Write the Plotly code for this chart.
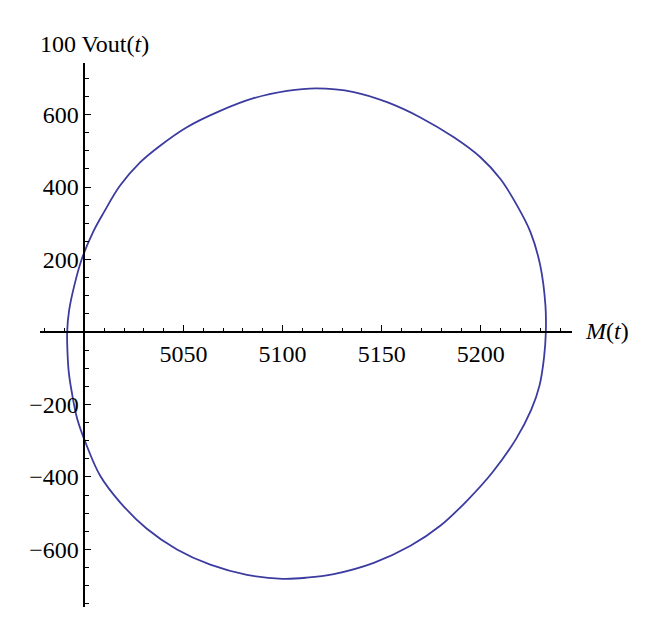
import plotly.graph_objects as go

# Parametric curve: M(t) vs 100 Vout(t)
m_values = [4991.5, 4991.3, 4992.3, 4994.9, 4998.6, 5004.3, 5009.8, 5018.0, 5028.1,
            5038.2, 5051.7, 5068.5, 5085.4, 5102.2, 5117.0, 5135.9, 5152.7, 5169.5,
            5186.4, 5199.8, 5209.9, 5218.4, 5225.1, 5230.0, 5232.6, 5232.8, 5231.9,
            5229.6, 5225.4, 5217.8, 5205.9, 5193.1, 5179.7, 5164.5, 5146.0, 5125.8,
            5112.0, 5100.0, 5082.0, 5063.5, 5046.7, 5031.5, 5018.0, 5007.9, 5001.2,
            4996.4, 4993.6, 4992.1, 4991.5]
vout_values = [-60, 0, 60, 128, 200, 275, 330, 404, 468,
               514, 565, 610, 645, 665, 672, 662, 634, 592,
               537, 482, 422, 348, 275, 183, 73, 0, -70,
               -148, -215, -295, -387, -465, -534, -590, -637, -668,
               -678, -681, -670, -642, -600, -543, -470, -396, -314,
               -240, -165, -110, -60]

x_tickvals = [5050, 5100, 5150, 5200]
x_ticktext = ["5050", "5100", "5150", "5200"]
y_tickvals = [-600, -400, -200, 200, 400, 600]
y_ticktext = ["\u2212600", "\u2212400", "\u2212200", "200", "400", "600"]

# page body has an 8px margin: the figure starts at (8, 8) in the window
OFF = 8
W, H = 660 - OFF, 639 - OFF


def px(xp):
    return (xp - OFF) / W


def py(yp):
    return 1 - (yp - OFF) / H


X_RANGE = [4977.6, 5246.0]
Y_RANGE = [-758.0, 743.0]
x_dom = [px(40), px(572)]
y_dom = [py(606.7), py(62.7)]

FONT = "Liberation Serif"
FS = 24
CURVE = "#3c3ca0"

# paper position of the crossing axes
ypos = y_dom[0] + (0 - Y_RANGE[0]) / (Y_RANGE[1] - Y_RANGE[0]) * (y_dom[1] - y_dom[0])
xpos = x_dom[0] + (5000 - X_RANGE[0]) / (X_RANGE[1] - X_RANGE[0]) * (x_dom[1] - x_dom[0])

fig = go.Figure()
fig.add_trace(go.Scatter(
    x=m_values, y=vout_values, mode="lines",
    line=dict(color=CURVE, width=1.8, shape="spline", smoothing=1.0),
    showlegend=False, hoverinfo="skip",
))

fig.update_layout(
    width=W, height=H,
    margin=dict(l=0, r=0, t=0, b=0, pad=0, autoexpand=False),
    paper_bgcolor="white", plot_bgcolor="white",
    font=dict(family=FONT, size=FS, color="black"),
    xaxis=dict(
        domain=x_dom, range=X_RANGE, anchor="free", position=ypos, automargin=False,
        showgrid=False, zeroline=False, showline=True, linecolor="black", linewidth=1.5,
        ticks="inside", ticklen=6, tickwidth=1.3, tickcolor="black",
        tickmode="array", tickvals=x_tickvals, ticktext=x_ticktext,
        minor=dict(ticks="inside", tick0=5000, dtick=10, ticklen=3.5, tickwidth=1.2,
                   tickcolor="black", showgrid=False),
        tickfont=dict(family=FONT, size=FS, color="black"),
    ),
    yaxis=dict(
        domain=y_dom, range=Y_RANGE, anchor="free", position=xpos, automargin=False,
        showgrid=False, zeroline=False, showline=True, linecolor="black", linewidth=1.5,
        ticks="inside", ticklen=6, tickwidth=1.3, tickcolor="black",
        tickmode="array", tickvals=y_tickvals, ticktext=y_ticktext,
        minor=dict(ticks="inside", tick0=0, dtick=50, ticklen=3.5, tickwidth=1.2,
                   tickcolor="black", showgrid=False),
        tickfont=dict(family=FONT, size=FS, color="black"),
    ),
    annotations=[
        dict(text="100 Vout(<i>t</i>)", xref="paper", yref="paper",
             x=px(38), y=py(44), xanchor="left", yanchor="middle",
             showarrow=False, font=dict(family=FONT, size=FS, color="black")),
        dict(text="<i>M</i>(<i>t</i>)", xref="paper", yref="paper",
             x=px(583), y=py(331), xanchor="left", yanchor="middle",
             showarrow=False, font=dict(family=FONT, size=FS, color="black")),
    ],
)

fig.write_html("out.html")
